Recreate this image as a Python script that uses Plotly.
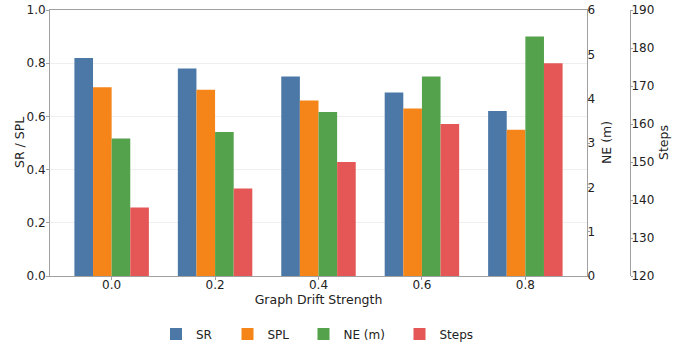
import plotly.graph_objects as go

categories = ["0.0", "0.2", "0.4", "0.6", "0.8"]
sr = [0.82, 0.78, 0.75, 0.69, 0.62]
spl = [0.71, 0.70, 0.66, 0.63, 0.55]
ne = [3.1, 3.25, 3.7, 4.5, 5.4]
steps = [138, 143, 150, 160, 176]

colors = ["#4c78a8", "#f58518", "#54a24b", "#e45756"]
names = ["SR", "SPL", "NE (m)", "Steps"]
series = [sr, spl, ne, steps]
axes = ["y", "y", "y2", "y3"]
legends = ["legend", "legend2", "legend3", "legend4"]

# layout geometry (pixels)
L, R_AX, STEPS_AX, W, H, TOP, BOT = 50, 587, 630, 686, 345, 10, 276
pw = STEPS_AX - L
def px(xp):
    return (xp - L) / pw

xs = list(range(len(categories)))
w = 0.18
fig = go.Figure()
for i, (nm, vals, ax, c, lg) in enumerate(zip(names, series, axes, colors, legends)):
    fig.add_trace(go.Bar(
        x=xs, y=vals, name=nm, yaxis=ax, legend=lg,
        width=w, offset=-0.36 + i * w,
        marker=dict(color=c, line=dict(width=0)),
    ))

font = "DejaVu Sans"
axcol = "#a0a0a0"
dom_end = (R_AX - L) / pw
tf = dict(size=12)
ttl = dict(size=12.5, color="#222")
leg_y = -(334 - BOT) / (BOT - TOP)
leg_centers = [176, 247.5, 323.5, 419.5]
leg_common = dict(orientation="h", xanchor="left", y=leg_y, yanchor="middle",
                  font=dict(size=12), itemwidth=30, bgcolor="rgba(0,0,0,0)")
fig.update_layout(
    width=W, height=H,
    margin=dict(l=L, r=W - STEPS_AX, t=TOP, b=H - BOT, autoexpand=False),
    paper_bgcolor="white", plot_bgcolor="white",
    font=dict(family=font, size=12, color="#222"),
    barmode="overlay",
    showlegend=True,
    legend=dict(x=px(leg_centers[0] - 20), **leg_common),
    legend2=dict(x=px(leg_centers[1] - 20), **leg_common),
    legend3=dict(x=px(leg_centers[2] - 20), **leg_common),
    legend4=dict(x=px(leg_centers[3] - 20), **leg_common),
    xaxis=dict(domain=[0, dom_end], range=[-0.596, 4.596], tickvals=xs, ticktext=categories,
               showline=True, linecolor=axcol, mirror=True, ticks="outside", ticklen=3, tickcolor=axcol,
               showgrid=False, zeroline=False, automargin=False, tickfont=tf, ticklabelstandoff=-5,
               title=dict(text="Graph Drift Strength", standoff=1, font=ttl)),
    yaxis=dict(range=[0, 1.0], dtick=0.2, tickformat=".1f", showline=True, linecolor=axcol,
               ticks="outside", ticklen=3, tickcolor=axcol, showgrid=True, gridcolor="#efefef",
               zeroline=False, automargin=False, tickfont=tf, ticklabelstandoff=-2),
    yaxis2=dict(range=[0, 6], dtick=1, overlaying="y", side="right", anchor="x",
                showline=True, linecolor=axcol, ticks="outside", ticklen=2, tickcolor=axcol,
                showgrid=False, zeroline=False, automargin=False, tickfont=tf, ticklabelstandoff=-5),
    yaxis3=dict(range=[120, 190], dtick=10, overlaying="y", side="right", anchor="free", position=1.0,
                showline=True, linecolor=axcol, ticks="outside", ticklen=2, tickcolor=axcol,
                showgrid=False, zeroline=False, automargin=False, tickfont=tf, ticklabelstandoff=-4),
)
for text, xc in [("SR / SPL", 19), ("NE (m)", 606), ("Steps", 663)]:
    fig.add_annotation(text=text, xref="paper", yref="paper", x=px(xc), y=0.5,
                       xanchor="center", yanchor="middle", textangle=-90,
                       showarrow=False, font=ttl)
fig.write_html("out.html", config={"displayModeBar": False},
               post_script="document.body.style.margin='0';document.body.style.overflow='hidden';")
